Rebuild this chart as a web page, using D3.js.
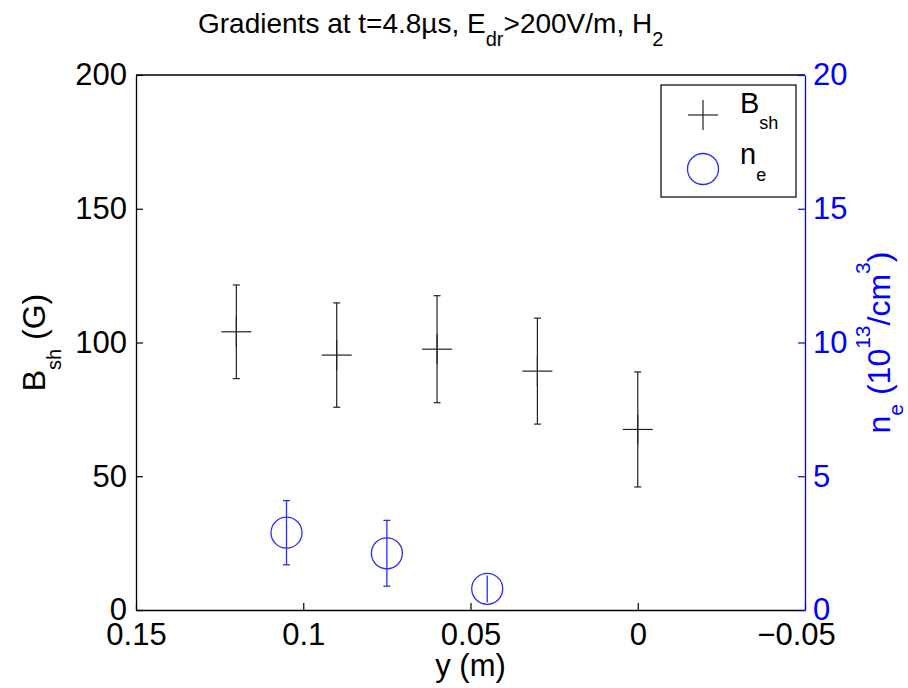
<!DOCTYPE html>
<html>
<head>
<meta charset="utf-8">
<script src="https://cdn.jsdelivr.net/npm/d3@7"></script>
<style>
  body { margin: 0; background: #fff; }
  svg { font-family: "Liberation Sans", Arial, Helvetica, sans-serif; }
</style>
</head>
<body>
<div id="chart"></div>
<script>
// B_sh points (black plus markers with error bars)
const yPos = [0.12, 0.09, 0.06, 0.03, 0];
const bSh = [104, 95.3, 97.5, 89.3, 67.5];
const bShErr = [17.5, 19.5, 20, 19.8, 21.5];

// n_e points (blue circles, right axis)
const yPosNe = [0.105, 0.075, 0.045];
const ne = [2.89, 2.12, 0.79];
const neErr = [1.2, 1.23, 0.5];

const xTicks = [0.15, 0.1, 0.05, 0, -0.05];
const xTickLabels = ['0.15', '0.1', '0.05', '0', '\u22120.05'];
const leftTicks = [0, 50, 100, 150, 200];
const rightTicks = [0, 5, 10, 15, 20];

const W = 908, H = 688;
const plot = {left: 136, right: 805, top: 75, bottom: 610};
const BLUE = '#0000ff';
const MARK_BLUE = '#2a2aff';

const svg = d3.select('#chart').append('svg')
    .attr('width', W)
    .attr('height', H);

// scales (x reversed)
const x = d3.scaleLinear().domain([0.15, -0.05]).range([plot.left, plot.right]);
const yL = d3.scaleLinear().domain([0, 200]).range([plot.bottom, plot.top]);
const yR = d3.scaleLinear().domain([0, 20]).range([plot.bottom, plot.top]);

// top border
svg.append('line')
    .attr('x1', plot.left).attr('x2', plot.right)
    .attr('y1', plot.top).attr('y2', plot.top)
    .attr('stroke', '#000').attr('stroke-width', 1.3);

// axes
const fontSize = 31;
const styleAxis = (g, color) => {
    g.select('.domain').attr('stroke', color).attr('stroke-width', 1.3);
    g.selectAll('.tick line').attr('stroke', color).attr('stroke-width', 1.2);
    g.selectAll('.tick text').attr('fill', color).attr('font-size', fontSize)
        .attr('font-family', '"Liberation Sans", Arial, sans-serif');
};

svg.append('g')
    .attr('transform', `translate(0,${plot.bottom})`)
    .call(d3.axisBottom(x).tickValues(xTicks)
        .tickFormat((d, i) => xTickLabels[i])
        .tickSizeInner(-7).tickSizeOuter(0).tickPadding(13))
    .call(g => styleAxis(g, '#000'))
    .call(g => g.selectAll('.tick text').filter(d => d < 0).attr('dx', -9));

svg.append('g')
    .attr('transform', `translate(${plot.left},0)`)
    .call(d3.axisLeft(yL).tickValues(leftTicks)
        .tickSizeInner(-7).tickSizeOuter(0).tickPadding(9))
    .call(g => styleAxis(g, '#000'));

svg.append('g')
    .attr('transform', `translate(${plot.right},0)`)
    .call(d3.axisRight(yR).tickValues(rightTicks)
        .tickSizeInner(-7).tickSizeOuter(0).tickPadding(8))
    .call(g => styleAxis(g, BLUE));

// B_sh error bars + markers
const cap = 3.5, arm = 15;
const bData = yPos.map((p, i) => ({p, v: bSh[i], e: bShErr[i]}));
const bG = svg.append('g').attr('stroke', '#222').attr('stroke-width', 1.2).attr('fill', 'none');
bData.forEach(d => {
    const cx = x(d.p);
    bG.append('line').attr('x1', cx).attr('x2', cx).attr('y1', yL(d.v - d.e)).attr('y2', yL(d.v + d.e));
    bG.append('line').attr('x1', cx - cap).attr('x2', cx + cap).attr('y1', yL(d.v - d.e)).attr('y2', yL(d.v - d.e));
    bG.append('line').attr('x1', cx - cap).attr('x2', cx + cap).attr('y1', yL(d.v + d.e)).attr('y2', yL(d.v + d.e));
    bG.append('line').attr('x1', cx - arm).attr('x2', cx + arm).attr('y1', yL(d.v)).attr('y2', yL(d.v));
    bG.append('line').attr('x1', cx).attr('x2', cx).attr('y1', yL(d.v) - arm).attr('y2', yL(d.v) + arm);
});

// n_e error bars + circles
const nData = yPosNe.map((p, i) => ({p, v: ne[i], e: neErr[i]}));
const nG = svg.append('g').attr('stroke', MARK_BLUE).attr('stroke-width', 1.3).attr('fill', 'none');
nData.forEach(d => {
    const cx = x(d.p);
    nG.append('line').attr('x1', cx).attr('x2', cx).attr('y1', yR(d.v - d.e)).attr('y2', yR(d.v + d.e));
    if (d.e > 0.8) {
        nG.append('line').attr('x1', cx - cap).attr('x2', cx + cap).attr('y1', yR(d.v - d.e)).attr('y2', yR(d.v - d.e));
        nG.append('line').attr('x1', cx - cap).attr('x2', cx + cap).attr('y1', yR(d.v + d.e)).attr('y2', yR(d.v + d.e));
    }
    nG.append('circle').attr('cx', cx).attr('cy', yR(d.v)).attr('r', 15.5);
});

// title
const title = svg.append('text')
    .attr('x', 198).attr('y', 33)
    .attr('font-size', 28).attr('fill', '#000');
title.append('tspan').text('Gradients at t=4.8\u00b5s, E');
title.append('tspan').attr('dy', 13).attr('font-size', 20).text('dr');
title.append('tspan').attr('dy', -13).text('>200V/m, H');
title.append('tspan').attr('dy', 13).attr('font-size', 20).text('2');

// x label
svg.append('text')
    .attr('x', (plot.left + plot.right) / 2).attr('y', 676)
    .attr('text-anchor', 'middle').attr('font-size', fontSize)
    .text('y (m)');

// left y label
const yLab = svg.append('text')
    .attr('transform', `translate(45,${(plot.top + plot.bottom) / 2}) rotate(-90)`)
    .attr('text-anchor', 'middle').attr('font-size', 32);
yLab.append('tspan').text('B');
yLab.append('tspan').attr('dy', 16).attr('font-size', 20).text('sh');
yLab.append('tspan').attr('dy', -16).text(' (G)');

// right y label
const rLab = svg.append('text')
    .attr('transform', `translate(890,${(plot.top + plot.bottom) / 2}) rotate(-90)`)
    .attr('text-anchor', 'middle').attr('font-size', 32).attr('fill', BLUE);
rLab.append('tspan').text('n');
rLab.append('tspan').attr('dy', 13).attr('font-size', 21).text('e');
rLab.append('tspan').attr('dy', -13).text(' (10');
rLab.append('tspan').attr('dy', -20).attr('font-size', 21).text('13');
rLab.append('tspan').attr('dy', 20).text('/cm');
rLab.append('tspan').attr('dy', -20).attr('font-size', 21).text('3');
rLab.append('tspan').attr('dy', 20).text(')');

// legend
const leg = svg.append('g');
leg.append('rect')
    .attr('x', 661).attr('y', 85).attr('width', 135).attr('height', 112)
    .attr('fill', '#fff').attr('stroke', '#000').attr('stroke-width', 1.2);
leg.append('line').attr('x1', 703 - arm).attr('x2', 703 + arm).attr('y1', 115).attr('y2', 115)
    .attr('stroke', '#222').attr('stroke-width', 1.2);
leg.append('line').attr('x1', 703).attr('x2', 703).attr('y1', 115 - arm).attr('y2', 115 + arm)
    .attr('stroke', '#222').attr('stroke-width', 1.2);
leg.append('circle').attr('cx', 703).attr('cy', 169).attr('r', 15.5)
    .attr('fill', 'none').attr('stroke', MARK_BLUE).attr('stroke-width', 1.3);
const l1 = leg.append('text').attr('x', 740).attr('y', 113).attr('font-size', 29);
l1.append('tspan').text('B');
l1.append('tspan').attr('dy', 16).attr('font-size', 18).text('sh');
const l2 = leg.append('text').attr('x', 740).attr('y', 164).attr('font-size', 29);
l2.append('tspan').text('n');
l2.append('tspan').attr('dy', 17).attr('font-size', 18).text('e');
</script>
</body>
</html>
